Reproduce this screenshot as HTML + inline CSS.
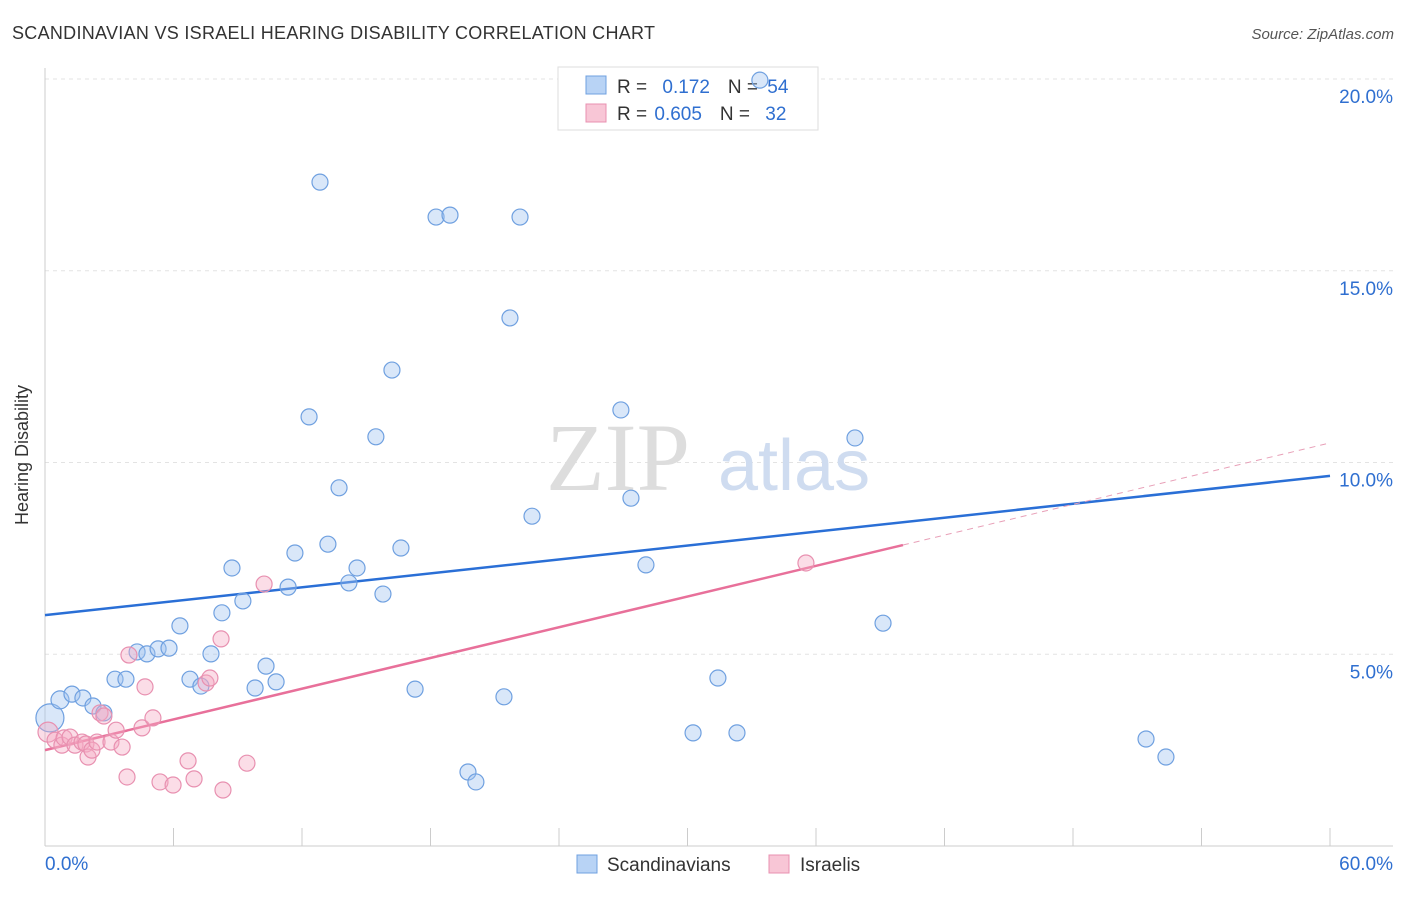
<!DOCTYPE html>
<html><head><meta charset="utf-8"><style>
body{margin:0;background:#fff;font-family:"Liberation Sans",sans-serif}
</style></head><body>
<svg width="1406" height="892" viewBox="0 0 1406 892" xmlns="http://www.w3.org/2000/svg">
<text x="12" y="39" font-size="18" fill="#333" textLength="643">SCANDINAVIAN VS ISRAELI HEARING DISABILITY CORRELATION CHART</text>
<text x="1394" y="39" font-size="15" fill="#555" text-anchor="end" font-style="italic">Source: ZipAtlas.com</text>
<g id="grid"></g>
<text x="690" y="490" font-size="96" fill="#ddd" text-anchor="end" font-family="Liberation Serif">ZIP</text>
<text x="718" y="490" font-size="72" fill="#cfdcf0">atlas</text>
<g id="axes"></g>
<g>
<rect x="558" y="67" width="260" height="63" fill="#fff" stroke="#ddd"/>
<rect x="586" y="76" width="20" height="18" fill="#b8d3f5" stroke="#6fa0e0"/>
<rect x="586" y="104" width="20" height="18" fill="#f8c6d6" stroke="#e890b0"/>
<text x="617" y="93" font-size="19" fill="#333">R = <tspan fill="#2f6fd0" dx="10">0.172</tspan><tspan fill="#333" dx="18">N = </tspan><tspan fill="#2f6fd0" dx="4">54</tspan></text>
<text x="617" y="120" font-size="19" fill="#333">R = <tspan fill="#2f6fd0" dx="2">0.605</tspan><tspan fill="#333" dx="18">N = </tspan><tspan fill="#2f6fd0" dx="10">32</tspan></text>
</g>
<g id="lines"></g>
<g id="pts"></g>
<text x="28" y="455" font-size="18" fill="#333" text-anchor="middle" transform="rotate(-90 28 455)">Hearing Disability</text>
<g>
<rect x="577" y="855" width="20" height="18" fill="#b8d3f5" stroke="#6fa0e0"/>
<text x="607" y="871" font-size="19" fill="#333">Scandinavians</text>
<rect x="769" y="855" width="20" height="18" fill="#f8c6d6" stroke="#e890b0"/>
<text x="800" y="871" font-size="19" fill="#333">Israelis</text>
</g>
</svg>
<script>
const blueX=[0.23,0.70,1.26,1.77,2.24,2.75,3.27,3.78,4.30,4.76,5.28,5.79,6.30,6.77,7.28,7.75,8.26,8.73,9.24,9.81,10.32,10.79,11.35,11.67,12.33,12.84,13.21,13.73,14.19,14.57,15.45,15.78,16.20,16.62,17.28,18.26,18.91,19.75,20.12,21.43,21.71,22.18,22.74,26.89,27.36,28.06,30.26,31.42,32.31,33.38,37.82,39.13,51.41,52.34];
const blueY=[3.34,3.81,3.96,3.86,3.65,3.47,4.35,4.35,5.06,5.01,5.14,5.16,5.74,4.35,4.17,5.01,6.08,7.25,6.39,4.12,4.69,4.28,6.75,7.64,11.19,17.31,7.87,9.34,6.86,7.25,10.67,6.57,12.41,7.77,4.09,16.40,16.45,1.93,1.67,3.89,13.77,16.40,8.60,11.37,9.07,7.33,2.95,4.38,2.95,19.97,10.64,5.81,2.79,2.32];
const pinkX=[0.14,0.47,0.79,0.89,1.17,1.40,1.73,1.91,2.01,2.19,2.43,2.57,2.75,3.08,3.32,3.60,3.92,3.83,4.53,4.67,5.04,5.37,5.98,6.68,6.96,7.52,7.70,8.22,8.31,9.43,10.23,35.53];
const pinkY=[2.97,2.76,2.63,2.82,2.84,2.63,2.71,2.66,2.32,2.50,2.71,3.47,3.39,2.71,3.02,2.58,4.98,1.80,3.08,4.15,3.34,1.67,1.59,2.22,1.75,4.25,4.38,5.40,1.46,2.16,6.83,7.38];
const yTicks=[5,10,15,20];
const yTickLabels=["5.0%","10.0%","15.0%","20.0%"];
const blueLine=[6.02,9.65];
const pinkLine=[2.50,10.51];
const pinkSolidEnd=40.06;
const NS="http://www.w3.org/2000/svg";
const X=v=>45+v*(1285/60), Y=v=>846-v*38.35;
function mk(t,a,p){const e=document.createElementNS(NS,t);for(const k in a)e.setAttribute(k,a[k]);document.getElementById(p).appendChild(e);return e;}
yTicks.forEach((t,i)=>{
 const g=mk('line',{x1:45,x2:1393,y1:Y(t),y2:Y(t),stroke:'#e3e3e3','stroke-dasharray':'4,4'},'grid');
 
 
 const l=mk('text',{x:1393,y:Y(t)+24,'font-size':19,fill:'#2f6fd0','text-anchor':'end'},'axes');
 l.textContent=yTickLabels[i];
 
 
});
let a=mk('line',{x1:45,x2:45,y1:68,y2:846,stroke:'#ccc'},'axes');

a=mk('line',{x1:45,x2:1393,y1:846,y2:846,stroke:'#ccc'},'axes');

for(let i=0;i<=10;i++){const t=mk('line',{x1:X(i*6),x2:X(i*6),y1:828,y2:846,stroke:'#ccc'},'axes');
 }
let xl=mk('text',{x:45,y:870,'font-size':19,fill:'#2f6fd0'},'axes');xl.textContent='0.0%';

xl=mk('text',{x:1393,y:870,'font-size':19,fill:'#2f6fd0','text-anchor':'end'},'axes');xl.textContent='60.0%';

blueX.forEach((v,i)=>{const c=mk('circle',{cx:X(v),cy:Y(blueY[i]),r:i===0?14:(i===1?9:8),fill:'rgba(160,195,240,0.4)',stroke:'#6fa0e0','stroke-width':1.2},'pts');
 });
pinkX.forEach((v,i)=>{const c=mk('circle',{cx:X(v),cy:Y(pinkY[i]),r:i===0?10:8,fill:'rgba(245,170,195,0.4)',stroke:'#e890b0','stroke-width':1.2},'pts');
 });
let l=mk('line',{x1:X(0),y1:Y(blueLine[0]),x2:X(60),y2:Y(blueLine[1]),stroke:'#2a6fd6','stroke-width':2.5},'lines');

const pe=pinkLine[0]+(pinkLine[1]-pinkLine[0])*pinkSolidEnd/60;
l=mk('line',{x1:X(0),y1:Y(pinkLine[0]),x2:X(pinkSolidEnd),y2:Y(pe),stroke:'#e8709a','stroke-width':2.5},'lines');

l=mk('line',{x1:X(pinkSolidEnd),y1:Y(pe),x2:X(60),y2:Y(pinkLine[1]),stroke:'#e8a0b8','stroke-width':1,'stroke-dasharray':'6,5'},'lines');

</script>
</body></html>
